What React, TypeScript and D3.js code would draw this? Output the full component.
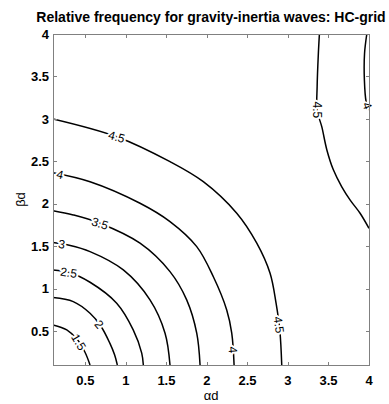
import { useEffect, useRef } from 'react';
import * as d3 from 'd3';

type Pt = [number, number];

const xTicks = [0.5, 1, 1.5, 2, 2.5, 3, 3.5, 4];
const yTicks = [0.5, 1, 1.5, 2, 2.5, 3, 3.5, 4];

// contour lines as [αd, βd]
const c15: Pt[] = [[0.1, 0.573], [0.27, 0.514], [0.4, 0.4], [0.495, 0.25], [0.557, 0.1]];
const c20: Pt[] = [[0.1, 0.894], [0.35, 0.847], [0.557, 0.71], [0.69, 0.56], [0.8, 0.36], [0.86, 0.22], [0.894, 0.1]];
const c25: Pt[] = [[0.1, 1.22], [0.3, 1.19], [0.557, 1.075], [0.886, 0.828], [1.09, 0.514], [1.195, 0.24], [1.215, 0.1]];
const c30: Pt[] = [[0.1, 1.542], [0.3, 1.51], [0.557, 1.436], [0.968, 1.22], [1.297, 0.867], [1.483, 0.475], [1.544, 0.1]];
const c35: Pt[] = [[0.1, 1.919], [0.35, 1.868], [0.68, 1.77], [1.174, 1.535], [1.544, 1.2], [1.75, 0.867], [1.874, 0.475], [1.915, 0.1]];
const c40: Pt[] = [[0.1, 2.366], [0.557, 2.26], [1.174, 2.006], [1.544, 1.79], [1.874, 1.495], [2.079, 1.14], [2.244, 0.749], [2.306, 0.475], [2.335, 0.1]];
const c45: Pt[] = [[0.1, 3.0], [0.886, 2.79], [1.544, 2.496], [1.955, 2.26], [2.368, 1.888], [2.615, 1.535], [2.779, 1.181], [2.853, 0.828], [2.9, 0.5], [2.923, 0.1]];
const c45r: Pt[] = [[3.388, 4.0], [3.375, 3.77], [3.36, 3.38], [3.36, 3.1], [3.417, 2.908], [3.48, 2.634], [3.56, 2.4], [3.664, 2.2], [3.77, 2.04], [3.89, 1.888], [4.0, 1.71]];
const c40r: Pt[] = [[3.973, 4.0], [3.945, 3.77], [3.943, 3.46], [3.965, 3.2], [4.0, 3.105]];

const lines = [c15, c20, c25, c30, c35, c40, c45, c45r, c40r];

// clabel positions: text, line index, approx [αd, βd]
const labelText = ['1.5', '2', '2.5', '3', '3.5', '4', '4', '4.5', '4.5', '4.5', '4'];
const labelLine = [0, 1, 2, 3, 4, 5, 5, 6, 6, 7, 8];
const labelPos: Pt[] = [[0.4, 0.36], [0.67, 0.58], [0.29, 1.17], [0.207, 1.515], [0.68, 1.77], [0.186, 2.34], [2.31, 0.28], [0.886, 2.79], [2.869, 0.572], [3.36, 3.105], [3.97, 3.15]];

const font = 'Liberation Sans, Arial, Helvetica, sans-serif';

export default function App() {
  const svgRef = useRef<SVGSVGElement>(null);

  useEffect(() => {
    if (!svgRef.current) return;
    const svg = d3.select(svgRef.current);
    svg.selectAll('*').remove();

    const left = 53, right = 369, top = 34, bottom = 365;
    const x = d3.scaleLinear().domain([0.1, 4]).range([left, right]);
    const y = d3.scaleLinear().domain([0.1, 4]).range([bottom, top]);

    svg.append('rect').attr('width', 389).attr('height', 404).attr('fill', '#fff');

    svg.append('defs').append('clipPath').attr('id', 'plotclip')
      .append('rect').attr('x', left).attr('y', top).attr('width', right - left).attr('height', bottom - top);

    const line = d3.line<Pt>().x(d => x(d[0])).y(d => y(d[1])).curve(d3.curveCatmullRom.alpha(0.5));

    const g = svg.append('g').attr('clip-path', 'url(#plotclip)');
    g.selectAll('path.c')
      .data(lines)
      .join('path')
      .attr('class', 'c')
      .attr('d', d => line(d))
      .attr('fill', 'none')
      .attr('stroke', '#000')
      .attr('stroke-width', 1.5);

    // labels: snap onto the polyline, rotate along it
    labelText.forEach((t, i) => {
      const pts = lines[labelLine[i]].map(p => [x(p[0]), y(p[1])]);
      const px = x(labelPos[i][0]), py = y(labelPos[i][1]);
      let best = Infinity, bx = px, by = py, ang = 0;
      for (let k = 0; k < pts.length - 1; k++) {
        const [x1, y1] = pts[k], [x2, y2] = pts[k + 1];
        const dx = x2 - x1, dy = y2 - y1;
        const tt = Math.max(0, Math.min(1, ((px - x1) * dx + (py - y1) * dy) / (dx * dx + dy * dy)));
        const qx = x1 + tt * dx, qy = y1 + tt * dy;
        const dist = (qx - px) ** 2 + (qy - py) ** 2;
        if (dist < best) { best = dist; bx = qx; by = qy; ang = Math.atan2(dy, dx) * 180 / Math.PI; }
      }
      if (ang > 90) ang -= 180;
      if (ang <= -90) ang += 180;
      svg.append('text')
        .attr('transform', `translate(${bx},${by}) rotate(${ang})`)
        .attr('text-anchor', 'middle')
        .attr('dy', '0.36em')
        .attr('font-family', font)
        .attr('font-size', '12px')
        .attr('fill', '#000')
        .attr('stroke', '#fff')
        .attr('stroke-width', 4)
        .attr('paint-order', 'stroke')
        .attr('stroke-linejoin', 'round')
        .text(t);
    });

    // box and inward ticks
    const axisColor = '#808080';
    svg.append('rect')
      .attr('x', left + 0.5).attr('y', top + 0.5)
      .attr('width', right - left).attr('height', bottom - top)
      .attr('fill', 'none').attr('stroke', axisColor).attr('stroke-width', 1);
    const tl = 3.5;
    xTicks.forEach(v => {
      const xx = Math.round(x(v)) + 0.5;
      svg.append('line').attr('x1', xx).attr('x2', xx).attr('y1', bottom + 0.5).attr('y2', bottom + 0.5 - tl).attr('stroke', axisColor);
      svg.append('line').attr('x1', xx).attr('x2', xx).attr('y1', top + 0.5).attr('y2', top + 0.5 + tl).attr('stroke', axisColor);
      svg.append('text')
        .attr('x', x(v)).attr('y', 385)
        .attr('text-anchor', 'middle')
        .attr('font-family', font).attr('font-size', '13px').attr('font-weight', 'bold')
        .text(String(v));
    });
    yTicks.forEach(v => {
      const yy = Math.round(y(v)) + 0.5;
      svg.append('line').attr('y1', yy).attr('y2', yy).attr('x1', left + 0.5).attr('x2', left + 0.5 + tl).attr('stroke', axisColor);
      svg.append('line').attr('y1', yy).attr('y2', yy).attr('x1', right + 0.5).attr('x2', right + 0.5 - tl).attr('stroke', axisColor);
      svg.append('text')
        .attr('x', 49).attr('y', y(v))
        .attr('dy', '0.36em')
        .attr('text-anchor', 'end')
        .attr('font-family', font).attr('font-size', '13px').attr('font-weight', 'bold')
        .text(String(v));
    });

    // axis labels
    svg.append('text')
      .attr('x', (left + right) / 2).attr('y', 400)
      .attr('text-anchor', 'middle')
      .attr('font-family', font).attr('font-size', '13px')
      .text('αd');
    svg.append('text')
      .attr('transform', `translate(25,${(top + bottom) / 2}) rotate(-90)`)
      .attr('text-anchor', 'middle')
      .attr('font-family', font).attr('font-size', '13px')
      .text('βd');

    // title
    svg.append('text')
      .attr('x', (left + right) / 2).attr('y', 22)
      .attr('text-anchor', 'middle')
      .attr('font-family', font).attr('font-size', '14px').attr('font-weight', 'bold')
      .text('Relative frequency for gravity-inertia waves: HC-grid');
  }, []);

  return (
    <svg ref={svgRef} width={389} height={404} style={{ position: 'absolute', left: 0, top: 0 }} />
  );
}
